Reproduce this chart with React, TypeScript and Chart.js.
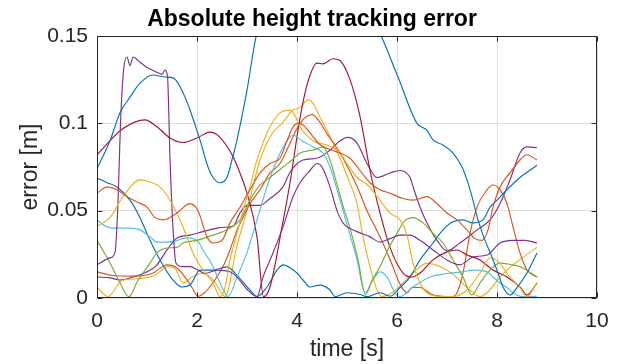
import React, { useEffect, useRef } from "react";
import { Chart, registerables } from "chart.js";
Chart.register(...registerables);

// [time s, error m]
const blueA = [[0,0.074],[0.26,0.090],[0.46,0.106],[0.66,0.115],[0.86,0.123],[1.12,0.1277],[1.36,0.1265],[1.52,0.126],[1.62,0.123],[1.76,0.115],[1.86,0.1076],[2.06,0.0905],[2.22,0.075],[2.32,0.069],[2.46,0.066],[2.6,0.069],[2.7,0.079],[2.8,0.0905],[3.0,0.119],[3.2,0.152],[4.4,0.21],[5.65,0.152],[6.02,0.1265],[6.4,0.100],[6.6,0.096],[6.72,0.0905],[6.92,0.0876],[7.12,0.083],[7.3,0.075],[7.4,0.0676],[7.5,0.058],[7.62,0.0447],[7.76,0.033],[7.9,0.0235],[8.02,0.0143],[8.12,0.0063],[8.26,0.0017],[8.4,0.006],[8.6,0.0143],[8.8,0.0258]];
const orangeA = [[0,0.060],[0.2,0.0636],[0.4,0.062],[0.6,0.058],[0.8,0.055],[1.0,0.052],[1.16,0.046],[1.32,0.0447],[1.6,0.0487],[1.86,0.054],[2.02,0.05],[2.2,0.035],[2.32,0.0315],[2.5,0.033],[2.66,0.043],[2.86,0.052],[3.06,0.062],[3.26,0.0716],[3.46,0.077],[3.66,0.08],[3.8,0.09],[3.92,0.098],[4.02,0.1],[4.12,0.099],[4.25,0.095],[4.45,0.088],[4.66,0.085],[4.86,0.083],[5.06,0.080],[5.26,0.073],[5.46,0.066],[5.66,0.062],[5.86,0.060],[6.12,0.057],[6.32,0.056],[6.6,0.058],[6.8,0.054],[7.0,0.0487],[7.2,0.0447],[7.4,0.039],[7.56,0.034],[7.7,0.033],[7.82,0.039],[7.92,0.052],[8.06,0.0636],[8.26,0.0716],[8.46,0.079],[8.6,0.082],[8.8,0.079]];
const yellowA = [[0,0.041],[0.26,0.046],[0.52,0.058],[0.86,0.0676],[1.06,0.0664],[1.26,0.0636],[1.46,0.056],[1.66,0.0447],[1.8,0.035],[1.92,0.0258],[2.12,0.016],[2.32,0.0086],[2.46,0.0008],[2.56,0.006],[2.66,0.0218],[2.8,0.037],[2.92,0.05],[3.06,0.0636],[3.2,0.079],[3.46,0.098],[3.66,0.106],[3.85,0.1076],[3.95,0.105],[4.06,0.098],[4.32,0.09],[4.6,0.0876],[4.86,0.083],[5.0,0.077],[5.2,0.069],[5.4,0.065],[5.66,0.056],[5.86,0.0487],[6.06,0.0447],[6.2,0.036],[6.32,0.02],[6.46,0.0086],[6.6,0.003],[6.9,0.0008],[7.12,0.0008],[7.4,0.0046],[7.66,0.0143],[7.86,0.0229],[8.06,0.02],[8.2,0.014],[8.46,0.006],[8.6,0.0008],[8.8,0.009]];
const purpleA = [[0,0.019],[0.26,0.023],[0.36,0.026],[0.42,0.055],[0.47,0.1],[0.53,0.13],[0.6,0.138],[0.66,0.133],[0.72,0.138],[0.86,0.135],[1.02,0.1317],[1.22,0.129],[1.3,0.128],[1.36,0.1305],[1.41,0.127],[1.46,0.08],[1.52,0.04],[1.58,0.02],[1.7,0.018],[1.86,0.018],[2.02,0.016],[2.16,0.014],[2.4,0.016],[2.66,0.015],[2.8,0.012],[3.0,0.005],[3.2,0.0008],[3.32,0.012],[3.52,0.0258],[3.72,0.0407],[3.92,0.058],[4.06,0.066],[4.26,0.073],[4.4,0.077],[4.5,0.075],[4.66,0.0636],[4.8,0.05],[4.92,0.043],[5.2,0.038],[5.46,0.035],[5.66,0.032],[5.86,0.034],[6.06,0.036],[6.26,0.036],[6.46,0.033],[6.72,0.0275],[7.0,0.0218],[7.26,0.019],[7.52,0.0235],[7.8,0.0246],[8.06,0.0315],[8.32,0.033],[8.56,0.033],[8.8,0.0315]];
const greenA = [[0,0.033],[0.26,0.02],[0.46,0.0086],[0.64,0.0008],[0.8,0.009],[1.06,0.02],[1.2,0.0258],[1.4,0.0286],[1.6,0.029],[1.72,0.0315],[2.0,0.033],[2.32,0.036],[2.52,0.038],[2.66,0.04],[2.86,0.0447],[3.06,0.056],[3.26,0.0647],[3.46,0.069],[3.72,0.075],[3.9,0.079],[4.06,0.083],[4.32,0.0847],[4.52,0.0865],[4.66,0.079],[4.8,0.065],[4.95,0.05],[5.06,0.04],[5.22,0.022],[5.37,0.002],[5.5,0.01],[5.66,0.018],[5.86,0.03],[6.0,0.037],[6.15,0.044],[6.32,0.046],[6.52,0.043],[6.72,0.037],[6.92,0.0315],[7.12,0.0218],[7.32,0.012],[7.5,0.0017],[7.66,0.0086],[7.86,0.016],[8.06,0.02],[8.3,0.019],[8.46,0.018],[8.8,0.012]];
const cyanA = [[0,0.0447],[0.2,0.0407],[0.4,0.04],[0.66,0.04],[0.86,0.039],[1.06,0.035],[1.2,0.032],[1.4,0.032],[1.6,0.033],[1.8,0.0344],[2.0,0.033],[2.12,0.0275],[2.32,0.018],[2.5,0.006],[2.62,0.0008],[2.8,0.012],[3.0,0.026],[3.2,0.0447],[3.4,0.0636],[3.6,0.079],[3.8,0.09],[3.92,0.0933],[4.1,0.09],[4.32,0.0865],[4.52,0.083],[4.66,0.075],[4.8,0.062],[5.0,0.042],[5.2,0.022],[5.36,0.003],[5.52,0.0103],[5.66,0.015],[5.8,0.012],[5.96,0.003],[6.06,0.0008],[6.32,0.0063],[6.66,0.012],[7.0,0.014],[7.32,0.015],[7.52,0.016],[7.8,0.015],[7.92,0.012],[8.06,0.0086],[8.2,0.006],[8.32,0.003],[8.5,0.0008],[8.8,0.001]];
const darkRedA = [[0,0.082],[0.52,0.097],[0.96,0.102],[1.2,0.098],[1.46,0.0916],[1.72,0.089],[2.0,0.0916],[2.26,0.095],[2.46,0.092],[2.72,0.081],[2.82,0.0744],[3.0,0.06],[3.2,0.035],[3.33,0.0008],[3.46,0.0063],[3.7,0.0407],[3.86,0.066],[4.06,0.103],[4.2,0.122],[4.4,0.1345],[4.52,0.134],[4.72,0.137],[4.86,0.136],[5.06,0.125],[5.26,0.104],[5.46,0.073],[5.66,0.0487],[5.86,0.029],[6.12,0.0143],[6.3,0.012],[6.46,0.0143],[6.72,0.0218],[7.0,0.0264],[7.2,0.0275],[7.4,0.0246],[7.66,0.0218],[7.92,0.016],[8.2,0.012],[8.46,0.0063],[8.6,0.0017],[8.8,0.0086]];
const blueB = [[0,0.0687],[0.2,0.066],[0.4,0.0636],[0.66,0.056],[0.86,0.046],[1.06,0.033],[1.26,0.0218],[1.52,0.0103],[1.7,0.0063],[1.86,0.0074],[2.06,0.016],[2.3,0.016],[2.6,0.0178],[2.8,0.013],[3.06,0.0046],[3.2,0.0008],[3.4,0.0063],[3.6,0.016],[3.72,0.019],[4.0,0.0143],[4.12,0.0103],[4.26,0.0063],[4.46,0.0074],[4.66,0.0046],[4.76,0.0008],[5.0,0.003],[5.26,0.002],[5.4,0.0008],[5.66,0.003],[5.86,0.001],[6.06,0.006],[6.26,0.012],[6.46,0.0218],[6.72,0.0315],[6.92,0.039],[7.12,0.0436],[7.32,0.0447],[7.52,0.043],[7.72,0.0447],[7.86,0.052],[8.0,0.056],[8.2,0.062],[8.46,0.069],[8.8,0.076]];
const orangeB = [[0,0.015],[0.3,0.013],[0.7,0.0125],[1.1,0.014],[1.4,0.019],[1.56,0.018],[1.76,0.012],[1.9,0.006],[2.02,0.001],[2.15,0.003],[2.3,0.008],[2.52,0.018],[2.66,0.0275],[2.8,0.039],[2.92,0.046],[3.06,0.054],[3.26,0.062],[3.46,0.0716],[3.66,0.077],[3.85,0.088],[4.0,0.097],[4.15,0.103],[4.3,0.105],[4.45,0.101],[4.6,0.094],[4.75,0.088],[4.92,0.08],[5.2,0.064],[5.4,0.05],[5.66,0.035],[5.86,0.022],[6.06,0.008],[6.2,0.003],[6.3,0.006],[6.46,0.006],[6.7,0.002],[6.9,0.001],[7.1,0.0008],[7.2,0.003],[7.32,0.0143],[7.46,0.037],[7.6,0.052],[7.8,0.062],[7.92,0.0647],[8.06,0.062],[8.2,0.054],[8.32,0.0407],[8.46,0.0258],[8.6,0.016],[8.8,0.012]];
const yellowB = [[0,0.0063],[0.22,0.0008],[0.5,0.01],[0.8,0.011],[1.16,0.013],[1.42,0.018],[1.56,0.017],[1.72,0.0086],[1.9,0.012],[2.1,0.014],[2.3,0.011],[2.45,0.005],[2.56,0.0008],[2.8,0.03],[3.0,0.05],[3.26,0.079],[3.5,0.094],[3.7,0.1],[3.92,0.1076],[4.06,0.109],[4.22,0.1134],[4.32,0.1116],[4.46,0.1036],[4.6,0.096],[4.72,0.0887],[4.86,0.08],[5.0,0.07],[5.2,0.054],[5.32,0.035],[5.46,0.018],[5.6,0.0046],[5.7,0.0008],[5.9,0.003],[6.1,0.008],[6.32,0.0143],[6.6,0.02],[6.86,0.018],[7.1,0.014],[7.4,0.006],[7.66,0.0008],[7.8,0.003],[8.06,0.012],[8.2,0.016],[8.46,0.022],[8.8,0.029]];
const purpleB = [[0,0.012],[0.26,0.0115],[0.46,0.0103],[0.72,0.012],[1.0,0.015],[1.2,0.019],[1.4,0.0275],[1.6,0.0344],[1.86,0.036],[2.12,0.038],[2.4,0.04],[2.56,0.0405],[2.72,0.041],[2.86,0.0487],[3.0,0.053],[3.26,0.053],[3.46,0.057],[3.72,0.0636],[3.86,0.072],[4.12,0.079],[4.4,0.08],[4.66,0.0847],[4.86,0.09],[5.02,0.092],[5.2,0.0887],[5.4,0.077],[5.6,0.069],[5.86,0.0716],[6.06,0.073],[6.26,0.069],[6.34,0.062],[6.46,0.052],[6.6,0.043],[6.8,0.033],[7.0,0.027],[7.26,0.0315],[7.6,0.039],[7.86,0.0447],[8.06,0.054],[8.26,0.0676],[8.46,0.083],[8.6,0.0865],[8.8,0.086]];

const seriesList = [blueA, orangeA, yellowA, purpleA, greenA, cyanA, darkRedA, blueB, orangeB, yellowB, purpleB];
const seriesColors = ["#0072BD", "#D95319", "#EDB120", "#7E2F8E", "#77AC30", "#4DBEEE", "#A2142F", "#0072BD", "#D95319", "#EDB120", "#7E2F8E"];

const xTicks = [0, 2, 4, 6, 8, 10];
const yTicks = [0, 0.05, 0.1, 0.15];
const yTickLabels = ["0", "0.05", "0.1", "0.15"];

const FONT = "'Liberation Sans', Arial, Helvetica, sans-serif";

const boxPlugin = {
  id: "matlabBox",
  afterDraw(chart: any) {
    const { ctx, chartArea: a, scales } = chart;
    ctx.save();
    ctx.strokeStyle = "#262626";
    ctx.lineWidth = 1;
    const L = Math.round(a.left) + 0.5, R = Math.round(a.right) - 0.5;
    const T = Math.round(a.top) + 0.5, B = Math.round(a.bottom) - 0.5;
    ctx.strokeRect(L, T, R - L, B - T);
    const tl = 5;
    ctx.beginPath();
    xTicks.forEach((v) => {
      const px = Math.round(scales.x.getPixelForValue(v)) + 0.5;
      ctx.moveTo(px, B); ctx.lineTo(px, B - tl);
      ctx.moveTo(px, T); ctx.lineTo(px, T + tl);
    });
    yTicks.forEach((v) => {
      const py = Math.round(scales.y.getPixelForValue(v)) + 0.5;
      ctx.moveTo(L, py); ctx.lineTo(L + tl, py);
      ctx.moveTo(R, py); ctx.lineTo(R - tl, py);
    });
    ctx.stroke();
    ctx.restore();
  },
};

export default function App() {
  const ref = useRef<HTMLCanvasElement>(null);
  useEffect(() => {
    document.body.style.margin = "0";
    const canvas = ref.current;
    if (!canvas) return;
    const chart = new Chart(canvas, {
      type: "line",
      data: {
        datasets: seriesList.map((s, i) => ({
          data: s.map(([t, e]) => ({ x: t, y: e })),
          borderColor: seriesColors[i],
          backgroundColor: seriesColors[i],
          borderWidth: 1.15,
          pointRadius: 0,
          fill: false,
          cubicInterpolationMode: "monotone" as const,
        })),
      },
      options: {
        animation: false,
        responsive: false,
        devicePixelRatio: 1,
        layout: { padding: { left: 0, right: 0, top: 0, bottom: 0 } },
        plugins: {
          legend: { display: false },
          tooltip: { enabled: false },
          title: {
            display: true,
            text: "Absolute height tracking error",
            color: "#000",
            font: { family: FONT, size: 23, weight: "bold" },
            padding: { top: 6, bottom: 2.4 },
          },
        },
        scales: {
          x: {
            type: "linear",
            min: 0,
            max: 10,
            afterBuildTicks: (s: any) => { s.ticks = xTicks.map((v) => ({ value: v })); },
            afterFit: (s: any) => { s.height = 66; },
            ticks: { color: "#262626", font: { family: FONT, size: 21 }, padding: 11, maxRotation: 0, autoSkip: false },
            grid: { color: "#dfdfdf", drawTicks: false },
            border: { display: false },
            title: { display: true, text: "time [s]", color: "#262626", font: { family: FONT, size: 23 }, padding: { top: 0, bottom: 1 } },
          },
          y: {
            type: "linear",
            min: 0,
            max: 0.15,
            afterBuildTicks: (s: any) => { s.ticks = yTicks.map((v) => ({ value: v })); },
            afterFit: (s: any) => { s.width = 97; },
            ticks: { color: "#262626", font: { family: FONT, size: 21 }, padding: 9, autoSkip: false, callback: (_v: any, i: number) => yTickLabels[i] },
            grid: { color: "#dfdfdf", drawTicks: false },
            border: { display: false },
            title: { display: true, text: "error [m]", color: "#262626", font: { family: FONT, size: 23 }, padding: { top: 17, bottom: 0 } },
          },
          yRightSpacer: {
            type: "linear",
            position: "right",
            display: true,
            min: 0,
            max: 1,
            afterFit: (s: any) => { s.width = 27; },
            ticks: { display: false },
            grid: { display: false },
            border: { display: false },
          },
        },
      },
      plugins: [boxPlugin],
    });
    return () => chart.destroy();
  }, []);
  return (
    <div style={{ position: "absolute", left: 0, top: 0, width: 624, height: 364, background: "#fff" }}>
      <canvas ref={ref} width={624} height={364} style={{ width: 624, height: 364, display: "block" }} />
    </div>
  );
}
